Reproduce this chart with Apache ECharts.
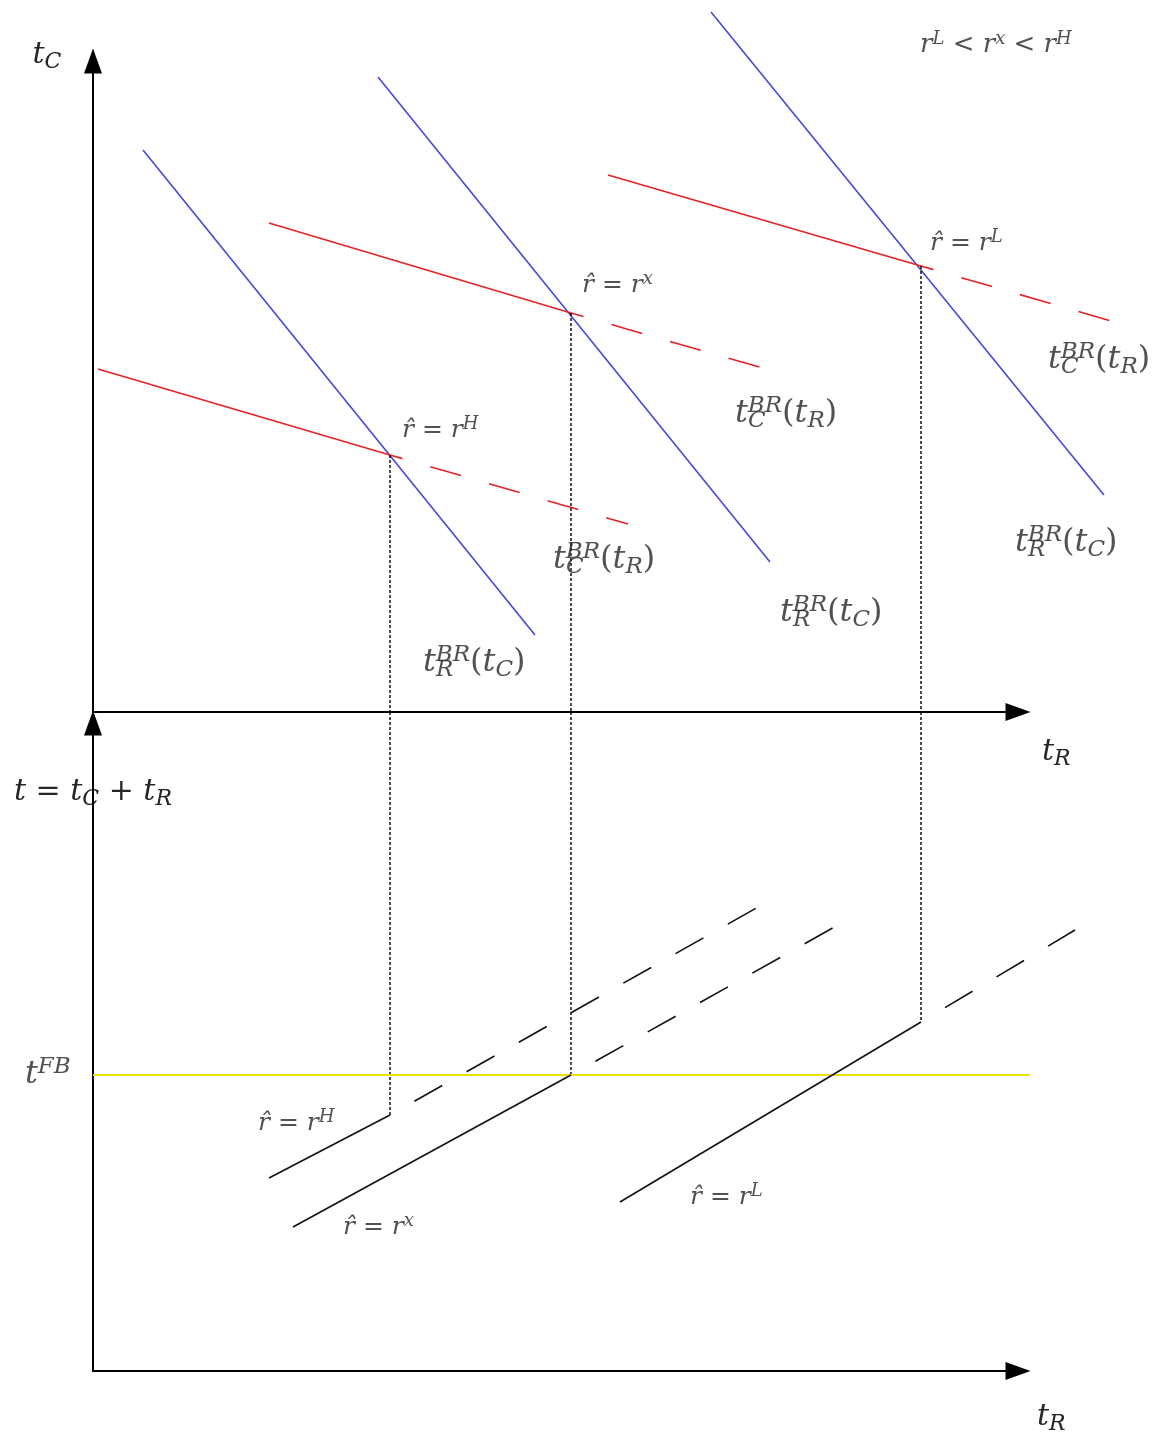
<!DOCTYPE html>
<html style="height: 100%">
<head>
    <meta charset="utf-8">
</head>
<body style="height: 100%; margin: 0; background: #fff">
<div id="container" style="width:1176px;height:1437px"></div>
<script type="text/javascript" src="https://cdn.jsdelivr.net/npm/echarts@6.0.0/dist/echarts.min.js"></script>

<script type="text/javascript">

    // upper panel: t_R across, t_C up (units = px from the origin)
    var blueStart = [[50, 562], [285, 635], [618, 700]];   // t_R^BR(t_C)
    var blueEnd = [[442, 77], [677, 150], [1011, 217]];
    var redStart = [[5, 343], [176, 489], [515, 537]];     // t_C^BR(t_R)
    var eqTop = [[297, 257], [478, 399], [828, 446]];      // r^H, r^x, r^L
    var redEnd = [[535, 188], [687, 339], [1032, 387]];

    // lower panel: t_R across, t = t_C + t_R up
    var blackStart = [[176, 193], [200, 144], [527, 169]];
    var eqBottom = [[297, 256], [478, 296], [828, 349]];
    var blackEnd = [[674, 469], [745, 446], [982, 441]];
    var tFB = 296;
    var fbRange = [0, 937];
    var panelJoin = 659; // where the upper t_R axis sits, in lower panel units

    // annotations: [x, y, kind]  (x = left edge, y = middle)
    var topLabels = [
        [827, 667, 'ineq'],
        [837, 469, 'rL'],
        [489, 427, 'rx'],
        [309, 282, 'rH'],
        [955, 352, 'tcbr'],
        [642, 298, 'tcbr'],
        [460, 152, 'tcbr'],
        [922, 169, 'trbr'],
        [687, 99, 'trbr'],
        [330, 49, 'trbr']
    ];
    var bottomLabels = [
        [-68, 296, 'tfb'],
        [165, 248, 'rH'],
        [250, 144, 'rx'],
        [597, 174, 'rL']
    ];

    var texts = {
        ineq: '{qi|r}{qp|L}{qn| < }{qi|r}{qp|x}{qn| < }{qi|r}{qp|H}',
        rL: '{ri|r\u0302}{rn| = }{ri|r}{rp|L}',
        rx: '{ri|r\u0302}{rn| = }{ri|r}{rp|x}',
        rH: '{ri|r\u0302}{rn| = }{ri|r}{rp|H}',
        tcbr: '{i|t}{p|BR}{n|(}{i|t}{b|R}{n|)}',
        trbr: '{i|t}{p|BR}{n|(}{i|t}{b|C}{n|)}',
        tfb: '{i|t}{p|FB}'
    };
    var stacked = {tcbr: 'C', trbr: 'R'};

    var F = 'DejaVu Serif';
    var TXT = '#262626';
    var BLUE = '#4747d8';
    var RED = '#e62222';
    var YELLOW = '#efe000';

    function sty(size, italic, lh) {
        var s = {fontFamily: F, fontSize: size, fontStyle: italic ? 'italic' : 'normal', color: TXT};
        if (lh) s.lineHeight = lh;
        return s;
    }
    function scr(size, va, lh, pad) {
        var s = sty(size, true, lh);
        s.verticalAlign = va;
        if (pad) s.padding = pad;
        return s;
    }

    var rich = {
        i: sty(32, true, 38), n: sty(32, false, 38),
        p: scr(23, 'top'), b: scr(23, 'bottom'),
        bs: scr(23, 'bottom', 38, [0, 0, 0, 13]),
        ai: sty(30, true, 36), an: sty(30, false, 36), ab: scr(22, 'bottom'),
        ri: sty(25, true, 30), rn: sty(25, false, 30), rp: scr(18, 'top'),
        qi: sty(26, true, 30), qn: sty(26, false, 30), qp: scr(18, 'top')
    };

    // grids 0,1 carry the drawn axes; grids 2,3 share their origin and scale
    // but reach to the page edge so the lines are not cut at the arrows
    var TOP = 2, BOT = 3;
    var series = [];
    function addLine(grid, pts, color, dash, offset, width) {
        series.push({
            type: 'line', xAxisIndex: grid, yAxisIndex: grid,
            data: pts, symbol: 'none', clip: false, silent: true, z: 2,
            lineStyle: {color: color, width: width || 1.6, type: dash || 'solid', dashOffset: offset || 0, cap: 'butt'}
        });
    }

    for (var k = 0; k < 3; k++) {
        addLine(TOP, [blueStart[k], blueEnd[k]], BLUE);
        addLine(TOP, [redStart[k], eqTop[k]], RED);
        addLine(TOP, [eqTop[k], redEnd[k]], RED, [32, 29], 19);
        addLine(TOP, [eqTop[k], [eqTop[k][0], 0]], '#000', [3, 2], 0, 1.4);
        addLine(BOT, [[eqBottom[k][0], panelJoin], eqBottom[k]], '#000', [3, 2], 0, 1.4);
    }
    addLine(BOT, [[fbRange[0], tFB], [fbRange[1], tFB]], YELLOW, null, 0, 2);
    for (k = 0; k < 3; k++) {
        addLine(BOT, [blackStart[k], eqBottom[k]], '#111');
        addLine(BOT, [eqBottom[k], blackEnd[k]], '#111', [32, 28], 32);
    }

    function labelSeries(grid, list, stack) {
        var data = [];
        list.forEach(function (d) {
            if (stack && !stacked[d[2]]) return;
            data.push({value: [d[0], d[1]], kind: d[2]});
        });
        series.push({
            type: 'scatter', xAxisIndex: grid, yAxisIndex: grid,
            data: data, symbolSize: 0, clip: false, silent: true, z: 5,
            label: {
                show: true, position: 'right', distance: 0,
                formatter: function (p) {
                    return stack ? '{bs|' + stacked[p.data.kind] + '}' : texts[p.data.kind];
                },
                rich: rich
            }
        });
    }
    labelSeries(TOP, topLabels, false);
    labelSeries(TOP, topLabels, true);
    labelSeries(BOT, bottomLabels, false);

    function axis(grid, max, name, gap, pad, extra) {
        var a = {
            type: 'value', gridIndex: grid, min: 0, max: max,
            axisLine: {
                show: true, onZero: false,
                symbol: ['none', 'triangle'], symbolSize: [18, 25],
                lineStyle: {color: '#000', width: 2}
            },
            axisTick: {show: false}, axisLabel: {show: false}, splitLine: {show: false},
            name: name, nameLocation: 'end', nameGap: gap, nameMoveOverlap: false,
            nameTextStyle: {padding: pad, rich: rich}
        };
        if (extra) for (var key in extra) a.nameTextStyle[key] = extra[key];
        return a;
    }
    function hidden(grid, max) {
        return {type: 'value', gridIndex: grid, min: 0, max: max, show: false, splitLine: {show: false}};
    }

    var dom = document.getElementById('container');
    var myChart = echarts.init(dom);
    var option = {
        animation: false,
        backgroundColor: '#fff',
        grid: [
            {left: 93, top: 61, width: 925, height: 651, outerBoundsMode: 'none'},
            {left: 93, top: 723, width: 925, height: 648, outerBoundsMode: 'none'},
            {left: 93, top: 61, width: 1083, height: 651, outerBoundsMode: 'none'},
            {left: 93, top: 723, width: 1083, height: 648, outerBoundsMode: 'none'}
        ],
        xAxis: [
            axis(0, 925, '{ai|t}{ab|R}', 24, [80, 0, 0, 0]),
            axis(1, 925, '{ai|t}{ab|R}', 19, [92, 0, 0, 0]),
            hidden(2, 1083),
            hidden(3, 1083)
        ],
        yAxis: [
            axis(0, 651, '{ai|t}{ab|C}', -12, [0, 92, 0, 0]),
            axis(1, 648, '{ai|t}{an| = }{ai|t}{ab|C}{an| + }{ai|t}{ab|R}', -87, [8, 6, 0, 6],
                {backgroundColor: '#fff'}),
            hidden(2, 651),
            hidden(3, 648)
        ],
        series: series
    };
    myChart.setOption(option);

</script>

</body>
</html>
